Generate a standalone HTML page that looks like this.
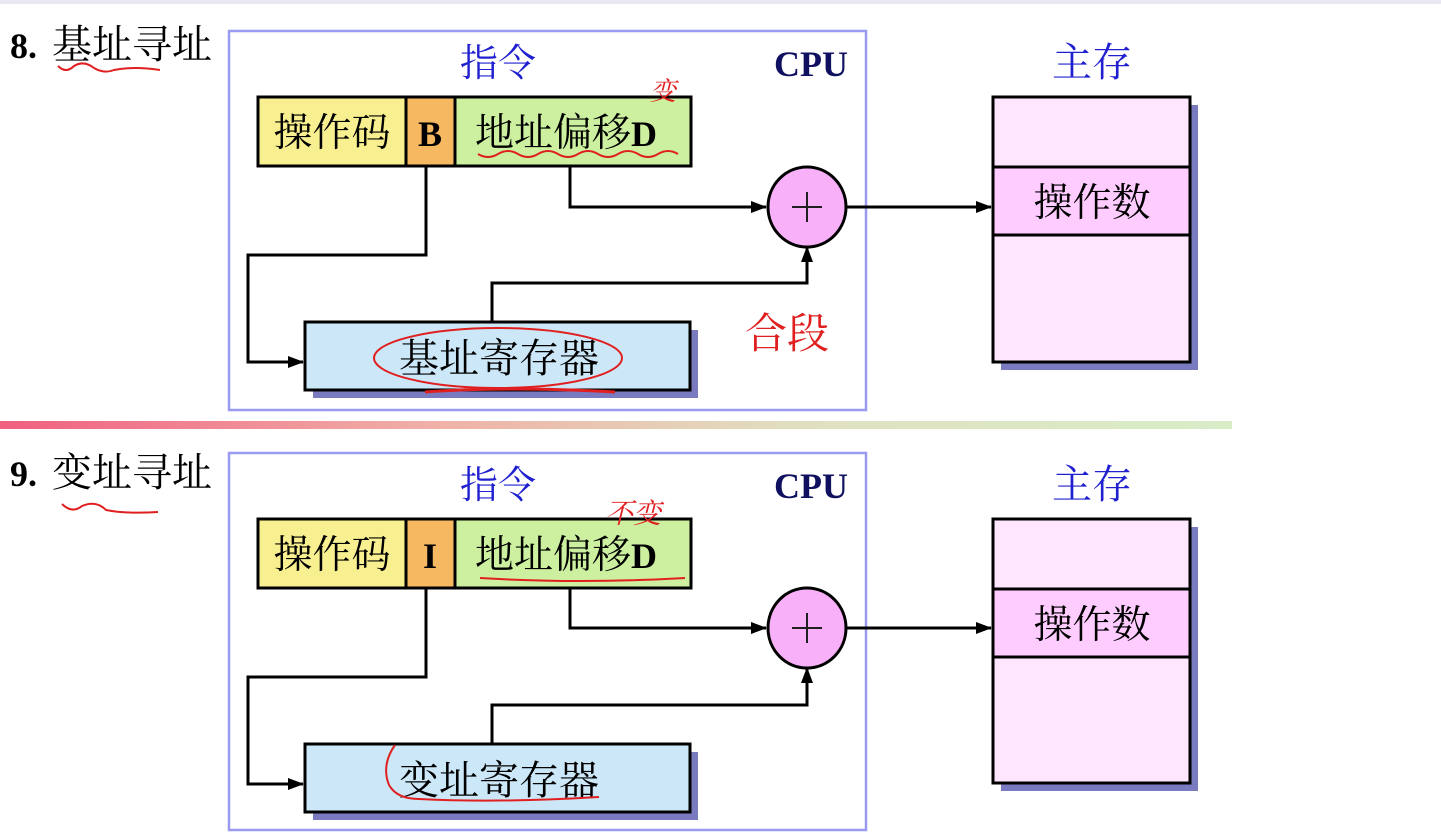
<!DOCTYPE html>
<html><head><meta charset="utf-8"><style>
html,body{margin:0;padding:0;background:#fff;}
svg{display:block;}
text{font-family:"Liberation Serif","Noto Serif CJK SC",serif;}
</style></head><body>
<svg width="1441" height="835" viewBox="0 0 1441 835" xmlns="http://www.w3.org/2000/svg">
<defs>
<marker id="ar" viewBox="0 0 16 12" refX="15" refY="6" markerWidth="18" markerHeight="12" markerUnits="userSpaceOnUse" orient="auto"><path d="M0,0 L16,6 L0,12 z" fill="#000"/></marker>
<linearGradient id="sep" x1="0" x2="1" y1="0" y2="0"><stop offset="0" stop-color="#f06080"/><stop offset="0.35" stop-color="#f0b0a8"/><stop offset="0.65" stop-color="#e0e0c0"/><stop offset="1" stop-color="#d8ecc8"/></linearGradient>
</defs>
<rect x="0" y="0" width="1441" height="4" fill="#e8e8f4"/>
<rect x="0" y="421" width="1232" height="8" fill="url(#sep)"/>

<g id="s1">
<text x="10" y="58" font-size="36" font-weight="bold" fill="#000">8.</text>
<text x="52" y="58" font-size="40" fill="#000">基址寻址</text>
<path d="M58,66 q8,8 16,0 q10,-6 20,2 q10,6 20,2 q20,-4 46,0" fill="none" stroke="#e02020" stroke-width="2"/>
<rect x="229" y="31" width="637" height="379" fill="#fff" stroke="#9a9af0" stroke-width="2.5"/>
<text x="498" y="76" font-size="38" fill="#2020d0" text-anchor="middle">指令</text>
<text x="848" y="76" font-size="36" font-weight="bold" fill="#101060" text-anchor="end">CPU</text>
<rect x="258" y="97" width="148" height="69" fill="#f8f090" stroke="#000" stroke-width="3"/>
<rect x="406" y="97" width="49" height="69" fill="#f6b860" stroke="#000" stroke-width="3"/>
<rect x="455" y="97" width="236" height="69" fill="#ccf0a0" stroke="#000" stroke-width="3"/>
<text x="332" y="146" font-size="39" text-anchor="middle">操作码</text>
<text x="430" y="146" font-size="36" font-weight="bold" text-anchor="middle">B</text>
<text x="475" y="146" font-size="39">地址偏移<tspan font-weight="bold" font-size="36">D</tspan></text>
<path d="M478,154 q10,6 20,0 t20,0 t20,0 t20,0 t20,0 t20,0 t20,0 t20,0 t20,0 t20,0" fill="none" stroke="#e02020" stroke-width="2"/>
<text x="650" y="100" font-size="26" fill="#e02020" font-style="italic">变</text>
<rect x="313" y="330" width="385" height="68" fill="#7a7ac0"/>
<rect x="305" y="322" width="385" height="68" fill="#cce8f8" stroke="#000" stroke-width="3"/>
<text x="499" y="372" font-size="40" text-anchor="middle">基址寄存器</text>
<ellipse cx="498" cy="358" rx="124" ry="30" fill="none" stroke="#e02020" stroke-width="2"/>
<path d="M425,392 q80,-6 190,0" fill="none" stroke="#e02020" stroke-width="3"/>
<polyline points="426,166 426,255 248,255 248,362 303,362" fill="none" stroke="#000" stroke-width="3" marker-end="url(#ar)"/>
<polyline points="570,166 570,207 766,207" fill="none" stroke="#000" stroke-width="3" marker-end="url(#ar)"/>
<polyline points="492,322 492,283 807,283 807,247" fill="none" stroke="#000" stroke-width="3" marker-end="url(#ar)"/>
<ellipse cx="807" cy="207" rx="39" ry="40" fill="#f8b0f8" stroke="#000" stroke-width="3"/>
<path d="M792,207 h30 M807,192 v30" stroke="#202020" stroke-width="2"/>
<line x1="847" y1="207" x2="991" y2="207" stroke="#000" stroke-width="3" marker-end="url(#ar)"/>
<text x="745" y="348" font-size="42" fill="#e02020">合段</text>
<text x="1092" y="76" font-size="40" fill="#2020d0" text-anchor="middle">主存</text>
<rect x="1001" y="105" width="197" height="265" fill="#7a7ac0"/>
<rect x="993" y="97" width="197" height="265" fill="#ffe6ff" stroke="#000" stroke-width="3"/>
<rect x="993" y="167" width="197" height="68" fill="#ffccff" stroke="#000" stroke-width="3"/>
<text x="1092" y="216" font-size="39" text-anchor="middle">操作数</text>
</g>

<g id="s2">
<text x="10" y="486" font-size="36" font-weight="bold" fill="#000">9.</text>
<text x="52" y="486" font-size="40" fill="#000">变址寻址</text>
<path d="M62,504 q10,10 20,2 q14,-6 24,4 q20,4 52,2" fill="none" stroke="#e02020" stroke-width="2"/>
<rect x="229" y="453" width="637" height="377" fill="#fff" stroke="#9a9af0" stroke-width="2.5"/>
<text x="498" y="498" font-size="38" fill="#2020d0" text-anchor="middle">指令</text>
<text x="848" y="498" font-size="36" font-weight="bold" fill="#101060" text-anchor="end">CPU</text>
<rect x="258" y="519" width="148" height="69" fill="#f8f090" stroke="#000" stroke-width="3"/>
<rect x="406" y="519" width="49" height="69" fill="#f6b860" stroke="#000" stroke-width="3"/>
<rect x="455" y="519" width="236" height="69" fill="#ccf0a0" stroke="#000" stroke-width="3"/>
<text x="332" y="568" font-size="39" text-anchor="middle">操作码</text>
<text x="430" y="568" font-size="36" font-weight="bold" text-anchor="middle">I</text>
<text x="475" y="568" font-size="39">地址偏移<tspan font-weight="bold" font-size="36">D</tspan></text>
<path d="M480,578 q100,6 205,0" fill="none" stroke="#e02020" stroke-width="2"/>
<text x="605" y="523" font-size="28" fill="#e02020" font-style="italic">不变</text>
<rect x="313" y="752" width="385" height="68" fill="#7a7ac0"/>
<rect x="305" y="744" width="385" height="68" fill="#cce8f8" stroke="#000" stroke-width="3"/>
<text x="499" y="794" font-size="40" text-anchor="middle">变址寄存器</text>
<path d="M395,745 q-14,20 -6,40 q8,14 30,14 q80,4 180,-2" fill="none" stroke="#e02020" stroke-width="2"/>
<polyline points="426,588 426,677 248,677 248,784 303,784" fill="none" stroke="#000" stroke-width="3" marker-end="url(#ar)"/>
<polyline points="570,588 570,628 766,628" fill="none" stroke="#000" stroke-width="3" marker-end="url(#ar)"/>
<polyline points="492,744 492,705 807,705 807,668" fill="none" stroke="#000" stroke-width="3" marker-end="url(#ar)"/>
<ellipse cx="807" cy="628" rx="39" ry="40" fill="#f8b0f8" stroke="#000" stroke-width="3"/>
<path d="M792,628 h30 M807,613 v30" stroke="#202020" stroke-width="2"/>
<line x1="847" y1="628" x2="991" y2="628" stroke="#000" stroke-width="3" marker-end="url(#ar)"/>
<text x="1092" y="498" font-size="40" fill="#2020d0" text-anchor="middle">主存</text>
<rect x="1001" y="527" width="197" height="264" fill="#7a7ac0"/>
<rect x="993" y="519" width="197" height="264" fill="#ffe6ff" stroke="#000" stroke-width="3"/>
<rect x="993" y="589" width="197" height="68" fill="#ffccff" stroke="#000" stroke-width="3"/>
<text x="1092" y="638" font-size="39" text-anchor="middle">操作数</text>
</g>
</svg>
</body></html>
